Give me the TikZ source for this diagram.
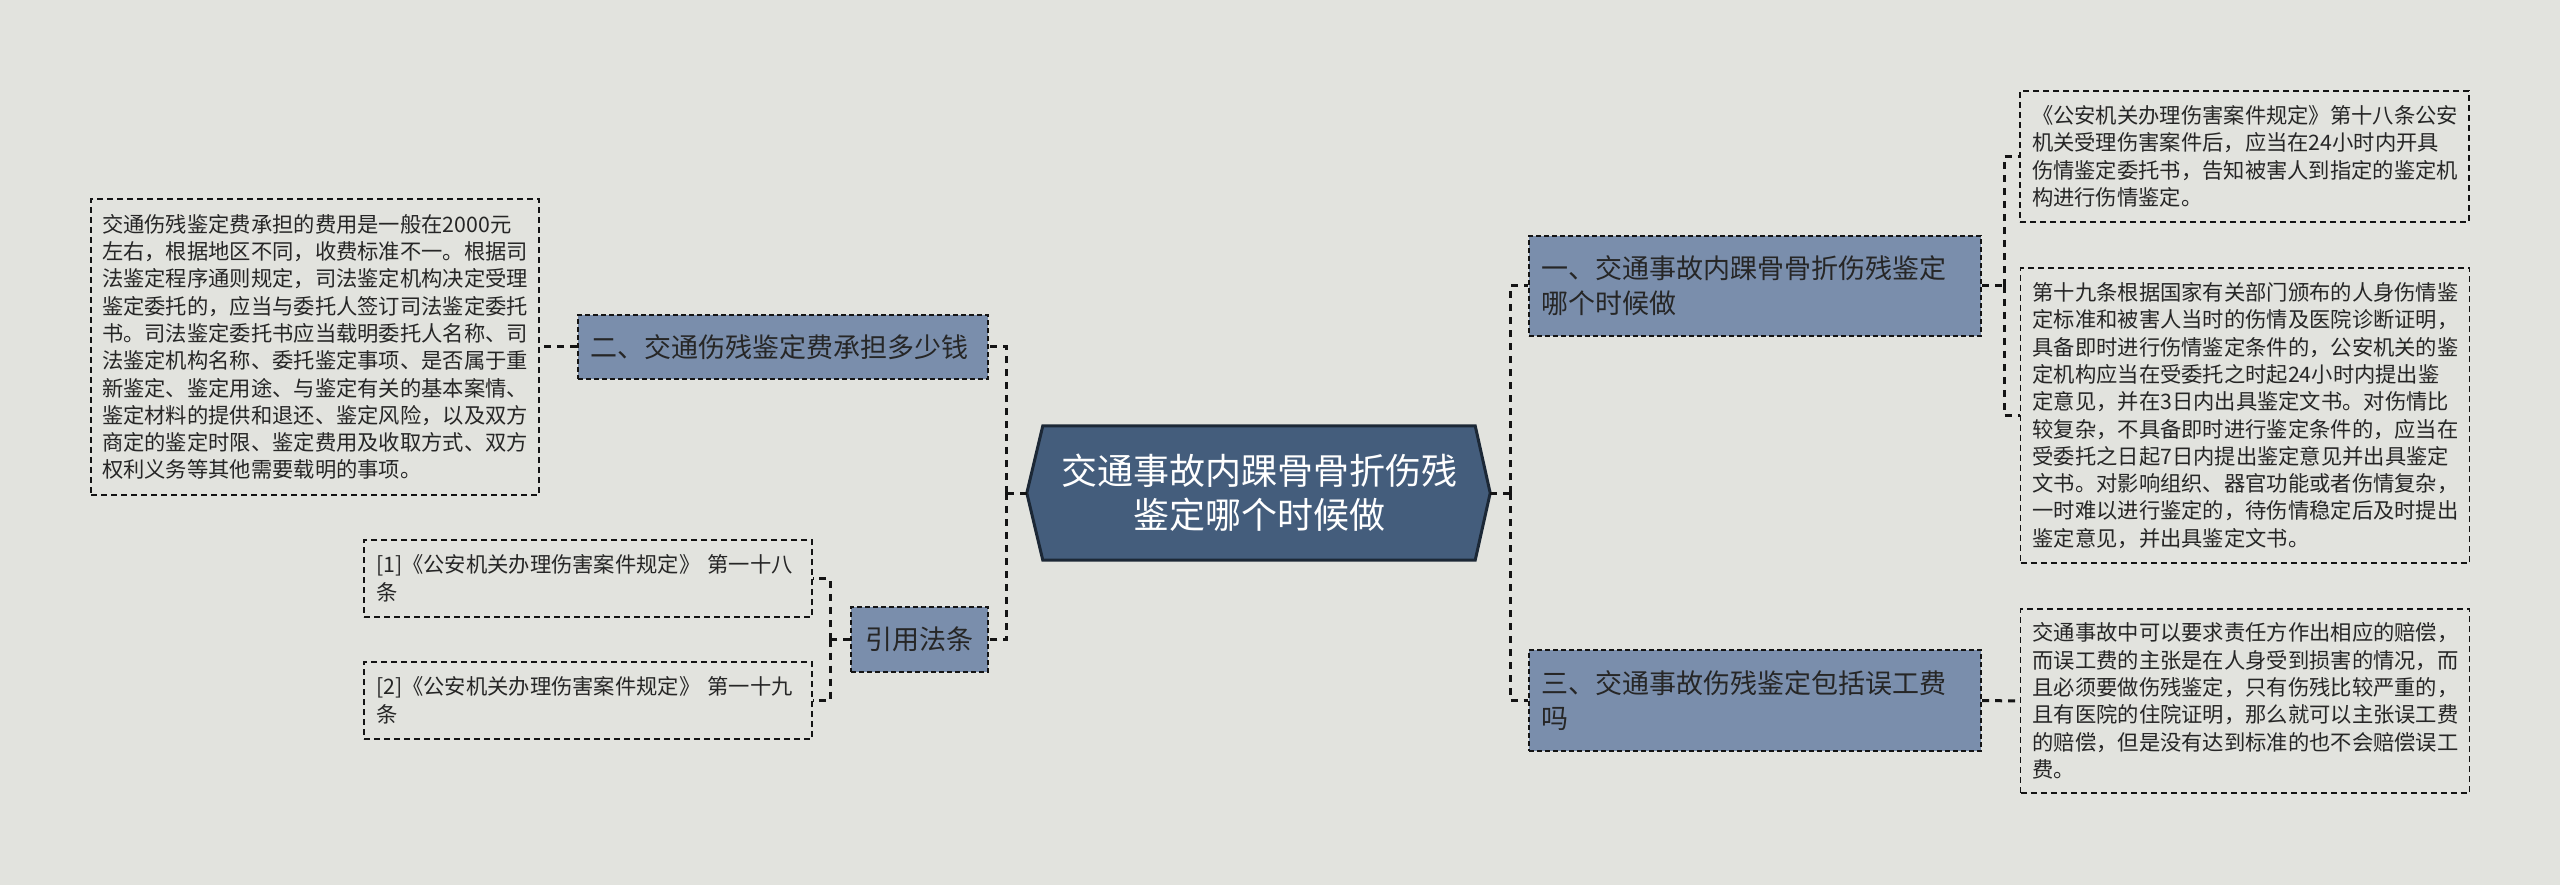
\documentclass[tikz,border=0pt]{standalone}
\usepackage{fontspec}
\setmainfont{Noto Sans CJK SC}
\definecolor{bgc}{HTML}{E2E3DE}
\definecolor{nodec}{HTML}{7A8EAC}
\definecolor{cfill}{HTML}{445D7C}
\definecolor{cborder}{HTML}{1C2836}
\definecolor{linec}{HTML}{141414}
\definecolor{textc}{HTML}{262626}
\pgfdeclarelayer{bg}
\pgfsetlayers{bg,main}
\tikzset{
  conn/.style={draw=linec, line width=3pt, dash pattern=on 7pt off 6pt},
  branch/.style={draw=linec, fill=nodec, line width=2pt, dash pattern=on 5pt off 3pt,
    text=textc, font=\fontsize{27}{35}\selectfont, align=left, inner xsep=12pt, inner ysep=0pt},
  leaf/.style={draw=linec, line width=1.6pt, dash pattern=on 6pt off 4pt,
    text=textc, font=\fontsize{21.3}{27.3}\selectfont, align=left, inner xsep=11pt, inner ysep=0pt},
}
\begin{document}
\begin{tikzpicture}[x=1pt,y=-1pt]
\useasboundingbox (0,0) rectangle (2560,885);
\begin{pgfonlayer}{bg}
\fill[bgc] (0,0) rectangle (2560,885);
\end{pgfonlayer}

% central node
\node[minimum width=432pt, minimum height=134pt, inner sep=0pt, text=white, align=center,
  font=\fontsize{36}{44}\selectfont] (c) at (1259,493) {交通事故内踝骨骨折伤残\\鉴定哪个时候做};
\begin{pgfonlayer}{bg}
\draw[line width=3pt, draw=cborder, fill=cfill] (c.north west) -- (c.north east) -- ([xshift=15pt]c.east) -- (c.south east) -- (c.south west) -- ([xshift=-16pt]c.west) -- cycle;
\end{pgfonlayer}
\coordinate (cl) at ([xshift=-16pt]c.west);
\coordinate (cr) at ([xshift=15pt]c.east);

% left side
\node[branch, minimum height=64pt, text width=386pt] (n2) at (783,347) {二、交通伤残鉴定费承担多少钱};
\node[branch, minimum height=65pt, text width=113pt, align=center] (n3) at (919.5,639.5) {引用法条};
\node[leaf, minimum height=296pt, text width=426pt] (L) at (315,347) {交通伤残鉴定费承担的费用是一般在2000元\\左右，根据地区不同，收费标准不一。根据司\\法鉴定程序通则规定，司法鉴定机构决定受理\\鉴定委托的，应当与委托人签订司法鉴定委托\\书。司法鉴定委托书应当载明委托人名称、司\\法鉴定机构名称、委托鉴定事项、是否属于重\\新鉴定、鉴定用途、与鉴定有关的基本案情、\\鉴定材料的提供和退还、鉴定风险，以及双方\\商定的鉴定时限、鉴定费用及收取方式、双方\\权利义务等其他需要载明的事项。};
\node[leaf, minimum height=77pt, text width=424pt, inner xsep=12pt, font=\fontsize{21.3}{28}\selectfont] (r1) at (588,578.5) {[1]《公安机关办理伤害案件规定》 第一十八\\条};
\node[leaf, minimum height=77pt, text width=424pt, inner xsep=12pt, font=\fontsize{21.3}{28}\selectfont] (r2) at (588,700.5) {[2]《公安机关办理伤害案件规定》 第一十九\\条};

% right side
\node[branch, minimum height=100pt, text width=428pt] (n1) at (1755,286) {一、交通事故内踝骨骨折伤残鉴定\\哪个时候做};
\node[branch, minimum height=101pt, text width=428pt] (n4) at (1755,700.5) {三、交通事故伤残鉴定包括误工费\\吗};
\node[leaf, minimum height=131pt, text width=425pt, inner xsep=12pt] (A) at (2244.5,156.5) {《公安机关办理伤害案件规定》第十八条公安\\机关受理伤害案件后，应当在24小时内开具\\伤情鉴定委托书，告知被害人到指定的鉴定机\\构进行伤情鉴定。};
\node[leaf, minimum height=295pt, text width=425pt, inner xsep=12pt] (B) at (2245,415.5) {第十九条根据国家有关部门颁布的人身伤情鉴\\定标准和被害人当时的伤情及医院诊断证明，\\具备即时进行伤情鉴定条件的，公安机关的鉴\\定机构应当在受委托之时起24小时内提出鉴\\定意见，并在3日内出具鉴定文书。对伤情比\\较复杂，不具备即时进行鉴定条件的，应当在\\受委托之日起7日内提出鉴定意见并出具鉴定\\文书。对影响组织、器官功能或者伤情复杂，\\一时难以进行鉴定的，待伤情稳定后及时提出\\鉴定意见，并出具鉴定文书。};
\node[leaf, minimum height=184pt, text width=425pt, inner xsep=12pt] (C) at (2245,701) {交通事故中可以要求责任方作出相应的赔偿，\\而误工费的主张是在人身受到损害的情况，而\\且必须要做伤残鉴定，只有伤残比较严重的，\\且有医院的住院证明，那么就可以主张误工费\\的赔偿，但是没有达到标准的也不会赔偿误工\\费。};

% connectors
\draw[conn] (cl) -- ++(-20,0) coordinate (jl);
\draw[conn] (jl) |- (n2.east);
\draw[conn] (jl) |- (n3.east);
\draw[conn] (cr) -- ++(20,0) coordinate (jr);
\draw[conn] (jr) |- (n1.west);
\draw[conn] (jr) |- (n4.west);
\draw[conn] (n2.west) -- (L.east);
\draw[conn] (n3.west) -- ++(-20,0) coordinate (jref);
\draw[conn] (jref) |- (r1.east);
\draw[conn] (jref) |- (r2.east);
\draw[conn] (n1.east) -- ++(22,0) coordinate (j1);
\draw[conn] (j1) |- (A.west);
\draw[conn] (j1) |- (B.west);
\draw[conn] (n4.east) -- (C.west);
\end{tikzpicture}
\end{document}
